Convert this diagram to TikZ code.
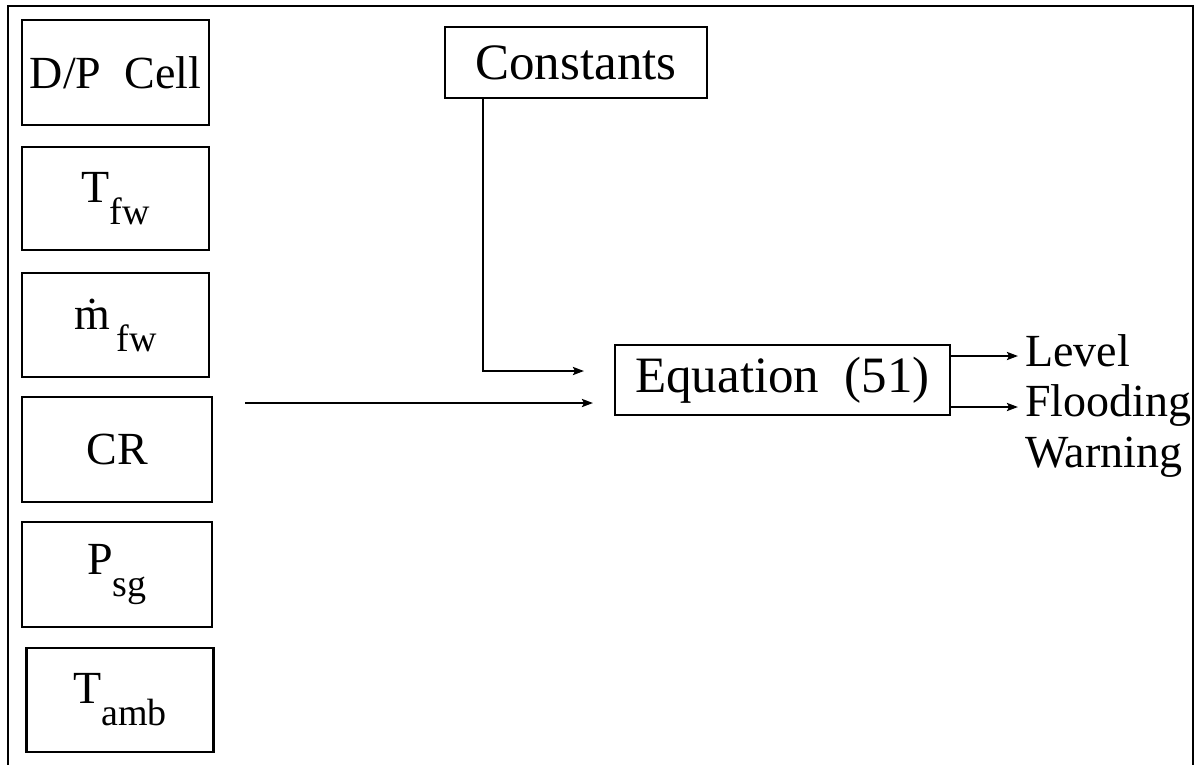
\documentclass[tikz,border=0pt]{standalone}
\usepackage{fontspec}
\setmainfont{Liberation Serif}
\usetikzlibrary{arrows.meta}
\newcommand{\bigf}{\fontsize{46}{52}\selectfont}
\newcommand{\largef}{\fontsize{51}{56}\selectfont}
\newcommand{\subf}[1]{\raisebox{-22pt}{\fontsize{38}{40}\selectfont #1}}
\tikzset{
  line/.style={line width=2.4pt},
  sbox/.style={draw, line width=2.2pt, inner sep=0pt, font=\bigf, align=center},
  arr/.style={line width=2.2pt, -{Stealth[length=11pt,width=8pt,inset=2pt]}},
  lbl/.style={inner sep=0pt, font=\bigf, anchor=base west}
}
\begin{document}
\begin{tikzpicture}[x=1pt,y=-1pt]
\useasboundingbox (0,0) rectangle (1198,764);
\clip (0,0) rectangle (1198,764);
% outer frame
\draw[line] (8,780) -- (8,6) -- (1193,6) -- (1193,780);
% sensor boxes
\node[sbox, minimum width=187pt, minimum height=105pt] (dp) at (115.5,72.5) {D/P\ \ Cell};
\node[sbox, minimum width=187pt, minimum height=103pt] (tfw) at (115.5,198.5) {T\subf{fw}};
\node[sbox, minimum width=187pt, minimum height=104pt] (mfw) at (115.5,325) {\.m\subf{\,fw}};
\node[sbox, minimum width=190pt, minimum height=105pt] (cr) at (117,449.5) {CR};
\node[sbox, minimum width=190pt, minimum height=105pt] (psg) at (117,574.5) {P\subf{sg}};
\node[sbox, minimum width=187pt, minimum height=104pt] (tamb) at (120,700) {T\subf{amb}};
% constants and equation
\node[sbox, font=\largef, minimum width=262pt, minimum height=71pt] (const) at (576,62.5) {Constants};
\node[sbox, font=\largef, minimum width=335pt, minimum height=70pt] (eq) at (782.5,380) {Equation\ \ (51)};
% connectors
\coordinate (cdown) at (483,98);
\coordinate (cin) at (584,371);
\draw[arr] (cdown) |- (cin);
\coordinate (src) at (245,403);
\coordinate (ein) at (593,403);
\draw[arr] (src) -- (ein);
% outputs
\node[lbl] (lvl) at (1025,366) {Level};
\node[lbl] (fl) at (1025,416) {Flooding};
\node[lbl] (wn) at (1025,467) {Warning};
\coordinate (o1) at (1018,356);
\coordinate (o2) at (1018,407);
\draw[arr] (eq.east |- o1) -- (o1);
\draw[arr] (eq.east |- o2) -- (o2);
\end{tikzpicture}
\end{document}
